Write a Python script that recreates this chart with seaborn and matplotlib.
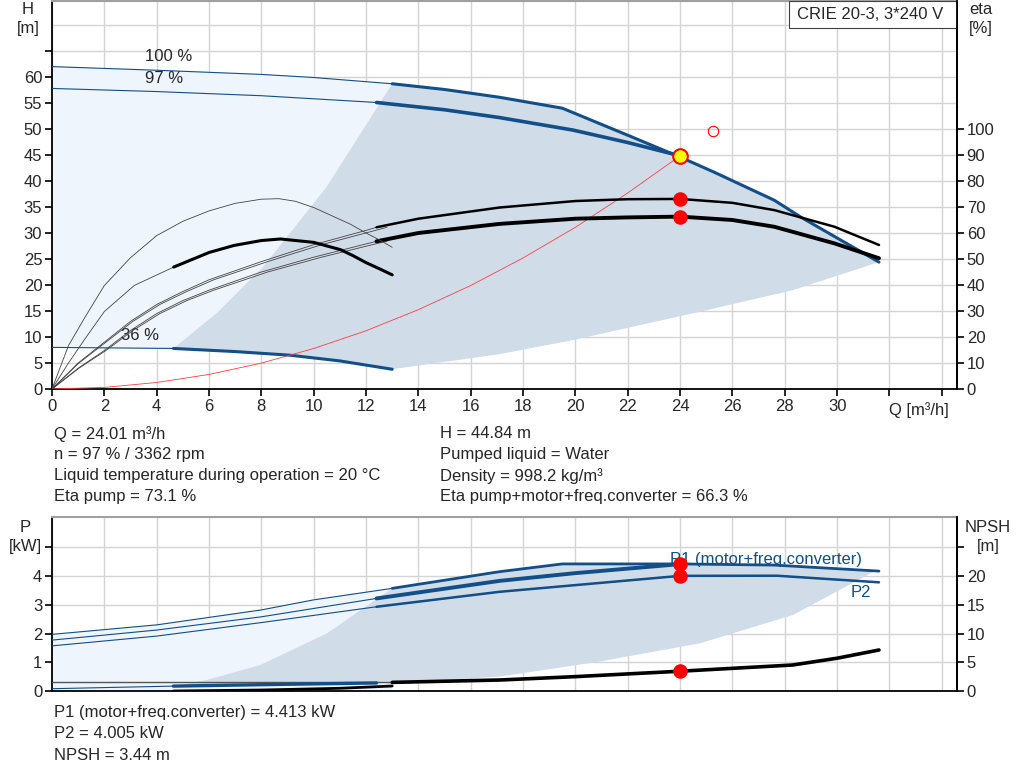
import numpy as np
import matplotlib
matplotlib.use("Agg")
import matplotlib.pyplot as plt
import seaborn as sns
from matplotlib.patches import Rectangle

# ---- head curves (Q in m3/h, H in m) ----
q_100 = [0, 4, 8, 10, 13, 15, 17.1, 19.5, 22, 24, 25.3, 27.6, 28.6, 31.6]
h_100 = [62.0, 61.3, 60.5, 59.9, 58.7, 57.6, 56.1, 54.0, 48.8, 44.6, 41.7, 36.3, 33.1, 24.4]
q_97 = [0, 4, 8, 12.4, 15, 17.1, 19.9, 22, 24]
h_97 = [57.8, 57.2, 56.4, 55.1, 53.7, 52.2, 49.8, 47.4, 44.84]
q_36 = [0, 4.64, 7, 9.1, 11, 13]
h_36 = [8.0, 7.8, 7.2, 6.5, 5.4, 3.8]

# operating range boundaries
q_left = [4.64, 6.3, 8.07, 10.5, 13.0]
h_left = [7.8, 14.6, 23.5, 38.9, 58.7]
q_low = [13, 17.1, 19.9, 24.8, 28.3, 31.6]
h_low = [3.8, 6.7, 9.4, 14.9, 19.0, 24.4]

# system curve
q_sys = [0, 2, 4, 6, 8, 10, 12, 14, 16, 18, 20, 22, 24]
h_sys = [0, 0.31, 1.25, 2.80, 4.98, 7.79, 11.2, 15.26, 19.9, 25.2, 31.1, 37.7, 44.84]

# efficiency curves (%)
q_eta = [0, 1, 2, 3, 4, 5, 6, 8, 10, 12, 12.4, 14, 17.1, 20, 22, 24, 26, 27.6, 29.9, 31.6]
eta_pump = [0, 10, 18, 26, 32.5, 37.5, 42, 49, 55.5, 61, 62.2, 65.5, 69.8, 72.3, 73.0,
            73.1, 71.6, 68.8, 62.4, 55.4]
eta_total = [0, 8, 14.8, 22.5, 29, 34, 38, 45, 50.7, 55.8, 56.8, 60, 63.5, 65.5, 66.0,
             66.3, 65.0, 62.4, 56.0, 50.3]
q_eta100 = [0, 1.03, 2.06, 3.09, 4.12, 5.15, 6.18, 8.24, 10.3, 12.36, 12.8]
eta_pump100 = [0, 10, 18, 26, 32.5, 37.5, 42, 49, 55.5, 61, 62.2]
eta_total100 = [0, 8, 14.8, 22.5, 29, 34, 38, 45, 50.7, 55.8, 56.8]
q_eta36p = [0, 0.63, 1.26, 2, 3, 4, 5, 6, 7, 8, 8.67, 9.3, 10, 11.4, 12, 12.5, 13]
eta_pump36 = [0, 16.7, 27.6, 39.8, 50.5, 59.0, 64.5, 68.5, 71.4, 73.0, 73.2, 72.2, 69.8,
              63.4, 60.0, 57.4, 54.5]
q_eta36t = [0, 0.63, 1.26, 2, 3.14, 4.65, 6, 6.95, 8, 8.73, 10, 11.02, 11.5, 12, 12.5, 13]
eta_total36 = [0, 10, 19.3, 29.8, 39.8, 46.9, 52.5, 55.2, 57.1, 57.7, 56.4, 53.6, 51.3,
               48.6, 46.3, 43.9]

# duty point
q_duty = 24.01
h_duty = 44.84
q_req, h_req = 25.27, 49.6

# ---- power / NPSH ----
q_p1_100 = [0, 4, 8, 10, 13, 17.1, 19.5, 24, 27.6, 31.6]
p1_100 = [1.97, 2.30, 2.82, 3.17, 3.57, 4.15, 4.42, 4.42, 4.38, 4.17]
q_p1 = [0, 4, 8, 12.4, 17.1, 20, 24]
p1 = [1.77, 2.12, 2.58, 3.22, 3.83, 4.1, 4.413]
q_p2 = [0, 4, 8, 12.4, 17.1, 24, 27.7, 31.6]
p2 = [1.57, 1.91, 2.38, 2.93, 3.45, 4.005, 4.01, 3.78]
q_p36 = [0, 4.64, 8, 12.4]
p_36 = [0.08, 0.17, 0.22, 0.28]
q_p36g = [0, 13]
p_36g = [0.30, 0.30]
q_pleft = [4.64, 5.9, 7.95, 10.5, 13]
p_left = [0.17, 0.38, 0.9, 2.0, 3.57]
q_plow = [13, 17.1, 20.9, 24.76, 28.3, 31.4]
p_low = [0.27, 0.5, 1.02, 1.66, 2.64, 4.15]
q_npsh = [13, 17.1, 20, 24, 28.3, 30, 31.6]
npsh = [1.5, 1.91, 2.5, 3.44, 4.52, 5.7, 7.13]
q_npsh36 = [4.64, 8, 11, 13]
npsh36 = [0.0, 0.17, 0.47, 0.87]
p1_duty = 4.413
p2_duty = 4.005
npsh_duty = 3.44

x_ticks = list(range(0, 36, 2))
x_labels = [str(t) for t in range(0, 31, 2)] + ["", ""]

sns.set_theme(style="white")
plt.rcParams["font.family"] = ["Liberation Sans", "DejaVu Sans"]
plt.rcParams["font.size"] = 12

BLUE = "#124e88"
LIGHT = "#eef5fc"
DARK = "#d0dce8"
GRID = "#d4d4d4"

W, H = 1024, 781
fig = plt.figure(figsize=(W / 100, H / 100), dpi=100)


def curve(ax, q, v, color, lw, z=3):
    sns.lineplot(x=q, y=v, ax=ax, color=color, linewidth=lw, estimator=None,
                 sort=False, legend=False, zorder=z)


def style(ax, ylim, yticks, ylabels):
    ax.set_xlim(0, 905 / 26.17)
    ax.set_ylim(*ylim)
    ax.set_xticks(x_ticks)
    ax.set_yticks(yticks)
    ax.set_yticklabels(ylabels)
    ax.grid(True, color=GRID, linewidth=1)
    ax.set_axisbelow(True)
    for s in ["left", "bottom", "right"]:
        ax.spines[s].set_color("black")
        ax.spines[s].set_linewidth(1.3)
    ax.spines["top"].set_color("#a0a0a0")
    ax.spines["top"].set_linewidth(1.5)
    ax.tick_params(axis="both", direction="out", length=5, width=1.2,
                   color="black", labelsize=12, pad=2, left=True, bottom=True)


# ================= top chart =================
ax1 = fig.add_axes([52 / W, 1 - 389 / H, 905 / W, 388 / H])
style(ax1, (0, 388 / 5.2), list(range(0, 70, 5)),
      [str(t) for t in range(0, 61, 5)] + [""])
ax1.set_xticklabels(x_labels)
ax1.axhline(70, color=GRID, lw=1, zorder=0)
ax1.text(32, -2.6, "Q [m³/h]", ha="left", va="top", fontsize=12)

# shaded areas
q_top13 = [q for q in q_100 if q <= 13]
h_top13 = h_100[:len(q_top13)]
ax1.fill(q_top13 + q_36[::-1], h_top13 + h_36[::-1], color=LIGHT, lw=0, zorder=1)
i13 = q_100.index(13)
dark_q = q_left + q_100[i13 + 1:] + q_low[::-1][1:] + q_36[::-1][1:-2]
dark_h = h_left + h_100[i13 + 1:] + h_low[::-1][1:] + h_36[::-1][1:-2]
ax1.fill(dark_q, dark_h, color=DARK, lw=0, zorder=1)

# head curves
curve(ax1, q_100, h_100, BLUE, 0.8)
curve(ax1, q_100[i13:], h_100[i13:], BLUE, 2.2)
curve(ax1, q_97, h_97, BLUE, 0.8)
curve(ax1, q_97[3:], h_97[3:], BLUE, 2.6)
curve(ax1, q_36, h_36, BLUE, 0.8)
curve(ax1, q_36[1:], h_36[1:], BLUE, 2.2)
curve(ax1, q_sys, h_sys, "#ff4040", 0.6)

ax1.text(3.55, 64.0, "100 %", ha="left", va="center", fontsize=12)
ax1.text(3.55, 59.8, "97 %", ha="left", va="center", fontsize=12)
ax1.text(2.64, 10.2, "36 %", ha="left", va="center", fontsize=12)

ax1.add_patch(Rectangle((0.8144, 0.9304), 0.1856, 0.0696, transform=ax1.transAxes,
                        facecolor="white", edgecolor="#404040", lw=0.8, zorder=5))
ax1.text(0.8232, 0.9652, "CRIE 20-3, 3*240 V", transform=ax1.transAxes,
         ha="left", va="center", fontsize=12, zorder=6)

# efficiency axis
ax1r = ax1.twinx()
ax1r.set_ylim(0, 2 * 388 / 5.2)
ax1r.set_yticks(list(range(0, 101, 10)))
ax1r.tick_params(axis="y", direction="out", length=5, width=1.2, color="black",
                 labelsize=12, pad=2, right=True)
for s in ["left", "top", "bottom"]:
    ax1r.spines[s].set_visible(False)
ax1r.spines["right"].set_color("black")
ax1r.spines["right"].set_linewidth(1.3)
ax1r.grid(False)

i124 = q_eta.index(12.4)
curve(ax1r, q_eta100, eta_pump100, "#444444", 0.6)
curve(ax1r, q_eta100, eta_total100, "#444444", 0.6)
curve(ax1r, q_eta[:i124 + 1], eta_pump[:i124 + 1], "#444444", 0.6)
curve(ax1r, q_eta[:i124 + 1], eta_total[:i124 + 1], "#444444", 0.6)
curve(ax1r, q_eta[i124:], eta_pump[i124:], "black", 1.8)
curve(ax1r, q_eta[i124:], eta_total[i124:], "black", 2.8)
curve(ax1r, q_eta36p, eta_pump36, "#444444", 0.6)
i465 = q_eta36t.index(4.65)
curve(ax1r, q_eta36t[:i465 + 1], eta_total36[:i465 + 1], "#444444", 0.6)
curve(ax1r, q_eta36t[i465:], eta_total36[i465:], "black", 2.2)

sns.scatterplot(x=[q_duty, q_duty], y=[73.1, 66.3], ax=ax1r, color="red", s=110,
                linewidth=0, zorder=8, legend=False)
ax1r.plot([q_duty], [2 * h_duty], "o", ms=10.5, mfc="#ffff00", mec="red", mew=1.5, zorder=9)
ax1r.plot([q_req], [2 * h_req], "o", ms=7.5, mfc="none", mec="red", mew=0.8, zorder=9)

fig.text(28 / W, 1 - 9 / H, "H", ha="center", va="center", fontsize=12)
fig.text(28 / W, 1 - 28 / H, "[m]", ha="center", va="center", fontsize=12)
fig.text(981 / W, 1 - 9 / H, "eta", ha="center", va="center", fontsize=12)
fig.text(981 / W, 1 - 28 / H, "[%]", ha="center", va="center", fontsize=12)

left_info = ["Q = 24.01 m³/h", "n = 97 % / 3362 rpm",
             "Liquid temperature during operation = 20 °C", "Eta pump = 73.1 %"]
right_info = ["H = 44.84 m", "Pumped liquid = Water", "Density = 998.2 kg/m³",
              "Eta pump+motor+freq.converter = 66.3 %"]
for i, (a, b) in enumerate(zip(left_info, right_info)):
    y = 1 - (434 + 21 * i) / H
    fig.text(54 / W, y, a, ha="left", va="center", fontsize=12)
    fig.text(440 / W, y, b, ha="left", va="center", fontsize=12)

# ================= bottom chart =================
ax2 = fig.add_axes([52 / W, 1 - 691 / H, 905 / W, 174 / H])
style(ax2, (0, 174 / 28.75), [0, 1, 2, 3, 4, 5], ["0", "1", "2", "3", "4", ""])
ax2.set_xticklabels([])
ax2.tick_params(axis="x", length=0)

q_p13 = [q for q in q_p1_100 if q <= 13]
p_p13 = p1_100[:len(q_p13)]
ax2.fill(q_p13 + [13, 0], p_p13 + [0, 0], color=LIGHT, lw=0, zorder=1)
j13 = q_p1_100.index(13)
ax2.fill(q_pleft + q_p1_100[j13 + 1:] + q_plow[::-1],
         p_left + p1_100[j13 + 1:] + p_low[::-1], color=DARK, lw=0, zorder=1)

curve(ax2, q_p1_100, p1_100, BLUE, 0.8)
curve(ax2, q_p1_100[j13:], p1_100[j13:], BLUE, 2.0)
curve(ax2, q_p1, p1, BLUE, 0.8)
curve(ax2, q_p1[3:], p1[3:], BLUE, 2.8)
curve(ax2, q_p2, p2, BLUE, 0.8)
curve(ax2, q_p2[3:], p2[3:], BLUE, 1.8)
curve(ax2, q_p36g, p_36g, "#555555", 1.0)
curve(ax2, q_p36, p_36, BLUE, 0.8)
curve(ax2, q_p36[1:], p_36[1:], BLUE, 2.4)

ax2.text(27.3, 4.59, "P1 (motor+freq.converter)", color=BLUE, ha="center",
         va="center", fontsize=12, zorder=4)
ax2.text(30.9, 3.41, "P2", color=BLUE, ha="center", va="center", fontsize=12)

ax2r = ax2.twinx()
ax2r.set_ylim(0, 5 * 174 / 28.75)
ax2r.set_yticks([0, 5, 10, 15, 20, 25])
ax2r.set_yticklabels(["0", "5", "10", "15", "20", ""])
ax2r.tick_params(axis="y", direction="out", length=5, width=1.2, color="black",
                 labelsize=12, pad=2, right=True)
for s in ["left", "top", "bottom"]:
    ax2r.spines[s].set_visible(False)
ax2r.spines["right"].set_color("black")
ax2r.spines["right"].set_linewidth(1.3)
ax2r.grid(False)

curve(ax2r, q_npsh36, npsh36, "black", 2.0)
curve(ax2r, q_npsh, npsh, "black", 2.6)
sns.scatterplot(x=[q_duty, q_duty, q_duty],
                y=[5 * p1_duty, 5 * p2_duty, npsh_duty], ax=ax2r, color="red",
                s=110, linewidth=0, zorder=8, legend=False)

fig.text(25 / W, 1 - 527 / H, "P", ha="center", va="center", fontsize=12)
fig.text(25 / W, 1 - 547 / H, "[kW]", ha="center", va="center", fontsize=12)
fig.text(988 / W, 1 - 527 / H, "NPSH", ha="center", va="center", fontsize=12)
fig.text(988 / W, 1 - 547 / H, "[m]", ha="center", va="center", fontsize=12)

bottom_info = ["P1 (motor+freq.converter) = 4.413 kW", "P2 = 4.005 kW", "NPSH = 3.44 m"]
for i, t in enumerate(bottom_info):
    fig.text(54 / W, 1 - (713 + 21 * i) / H, t, ha="left", va="center", fontsize=12)

fig.savefig("out.png", dpi=100)
